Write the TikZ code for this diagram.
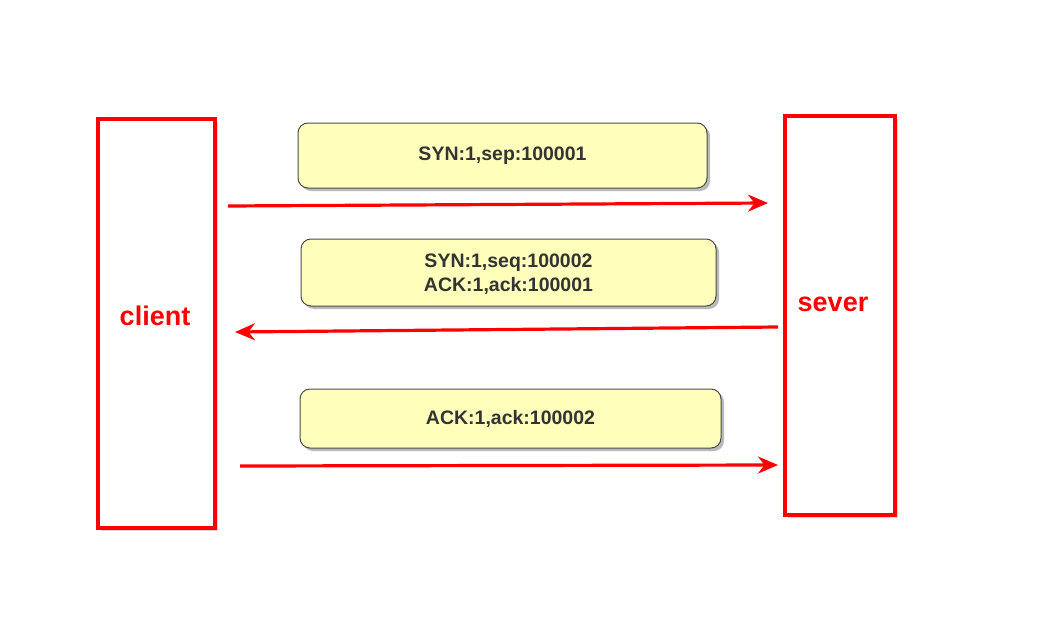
\documentclass[tikz,border=0pt]{standalone}
\usepackage{fontspec}
\setmainfont{Liberation Sans}
\usetikzlibrary{shadows,arrows.meta}
\definecolor{msgfill}{HTML}{FFFFBB}
\definecolor{msgtext}{HTML}{333333}
\definecolor{actred}{HTML}{FF0000}
\tikzset{
  x=1pt, y=-1pt,
  actor/.style={draw=actred, line width=3.2pt, fill=white, drop shadow={shadow xshift=2.5pt, shadow yshift=-2.5pt, opacity=0.3}},
  msgbox/.style={draw=black!70, line width=1pt, rounded corners=10pt, fill=msgfill, drop shadow={shadow xshift=3pt, shadow yshift=-3pt, opacity=0.55}},
  msgtxt/.style={text=msgtext, font=\bfseries\fontsize{19.5}{24}\selectfont, align=center},
  msgarrow/.style={draw=actred, line width=3.2pt, -{Stealth[length=20pt, width=17pt]}},
  actlabel/.style={text=actred, font=\bfseries\fontsize{27}{30}\selectfont}
}
\begin{document}
\begin{tikzpicture}
\useasboundingbox (0,0) rectangle (1047,642);
\fill[white] (0,0) rectangle (1047,642);
\draw[actor] (98,119) rectangle (215,528);
\draw[actor] (785,116) rectangle (895,515);
\node[actlabel] (client) at (155,316) {client};
\node[actlabel] (sever) at (833,304) {sever};
\draw[msgbox] (298,123) rectangle (707,188);
\node[msgtxt] (m1) at (502.5,156) {SYN:1,sep:100001};
\draw[msgbox] (301,239) rectangle (716,306);
\node[msgtxt] (m2) at (508.5,274) {SYN:1,seq:100002\\ACK:1,ack:100001};
\draw[msgbox] (300,389) rectangle (721,448);
\node[msgtxt] (m3) at (510.5,419) {ACK:1,ack:100002};
\coordinate (a1s) at (228,206);
\coordinate (a1e) at (768,203);
\coordinate (a2s) at (778,327);
\coordinate (a2e) at (235,332);
\coordinate (a3s) at (240,466);
\coordinate (a3e) at (778,465);
\draw[msgarrow] (a1s) -- (a1e);
\draw[msgarrow] (a2s) -- (a2e);
\draw[msgarrow] (a3s) -- (a3e);
\end{tikzpicture}
\end{document}
